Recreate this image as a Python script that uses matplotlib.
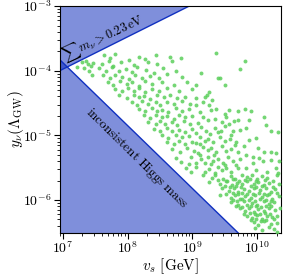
import matplotlib
matplotlib.use("Agg")
import matplotlib.pyplot as plt
import matplotlib.ticker as ticker
import numpy as np

plt.rcParams['mathtext.fontset'] = 'cm'
plt.rcParams['font.family'] = 'serif'

# excluded regions (straight lines in log-log, two end points each)
upper_vs = [10**6.9, 10**9.2]
upper_y = [10**-4.025, 10**-2.875]
lower_vs = [10**6.9, 10**9.8]
lower_y = [10**-3.78, 10**-6.60]

# scan points, (log10 v_s, log10 y_nu)
pts_left = [
    (7.29, -3.86), (7.36, -3.85), (7.43, -3.92), (7.22, -3.95), (7.40, -4.00),
    (7.47, -3.88), (7.33, -3.96), (7.45, -4.06), (7.38, -3.90),
]

pts_band_upper = [
    (7.63, -3.76), (7.72, -3.81), (7.81, -3.74), (8.18, -3.79), (8.27, -3.82),
    (8.44, -3.75), (8.66, -3.78), (8.82, -3.80),
    (7.60, -3.90), (7.71, -3.85), (7.78, -3.92), (7.89, -3.87), (8.02, -3.84),
    (8.09, -3.91), (8.32, -3.86), (8.46, -3.90), (8.69, -3.85),
    (7.55, -3.96), (7.67, -4.01), (7.76, -3.95), (7.86, -4.00), (7.97, -3.97),
    (8.06, -4.02), (8.14, -3.95), (8.28, -3.99), (8.40, -4.03), (8.54, -3.96),
    (8.74, -4.00),
    (7.62, -4.07), (7.73, -4.12), (7.80, -4.06), (7.91, -4.10), (8.02, -4.13),
    (8.12, -4.06), (8.22, -4.11), (8.35, -4.08), (8.48, -4.12), (8.61, -4.05),
    (8.84, -4.10),
    (7.70, -4.17), (7.78, -4.22), (7.88, -4.16), (7.99, -4.21), (8.06, -4.18),
    (8.17, -4.23), (8.27, -4.16), (8.38, -4.20), (8.53, -4.17), (8.71, -4.22),
    (8.92, -4.18),
    (7.81, -4.28), (7.91, -4.32), (8.01, -4.27), (8.09, -4.31), (8.17, -4.26),
    (8.27, -4.33), (8.37, -4.29), (8.48, -4.32), (8.61, -4.27), (8.79, -4.31),
    (9.00, -4.29),
    (7.86, -4.38), (7.99, -4.42), (8.09, -4.37), (8.17, -4.41), (8.25, -4.39),
    (8.35, -4.43), (8.45, -4.37), (8.56, -4.41), (8.66, -4.38), (8.76, -4.42),
    (8.89, -4.40),
    (8.06, -4.48), (8.14, -4.53), (8.22, -4.47), (8.32, -4.52), (8.43, -4.49),
    (8.50, -4.53), (8.61, -4.48), (8.71, -4.51), (8.84, -4.47), (8.97, -4.52),
    (8.17, -4.59), (8.27, -4.63), (8.37, -4.58), (8.45, -4.62), (8.53, -4.60),
    (8.63, -4.64), (8.74, -4.58), (8.84, -4.62), (8.94, -4.59),
    (8.25, -4.69), (8.35, -4.73), (8.43, -4.68), (8.53, -4.72), (8.61, -4.70),
    (8.71, -4.74), (8.79, -4.68), (8.89, -4.72), (9.00, -4.70),
    (8.32, -4.79), (8.43, -4.83), (8.50, -4.78), (8.58, -4.82), (8.69, -4.80),
    (8.76, -4.84), (8.87, -4.78), (8.97, -4.82),
    (8.40, -4.90), (8.50, -4.94), (8.61, -4.89), (8.69, -4.93), (8.79, -4.91),
    (8.89, -4.95), (9.00, -4.90),
    (8.53, -5.00), (8.63, -5.04), (8.74, -4.99), (8.84, -5.03), (8.94, -5.01),
    (8.61, -5.10), (8.71, -5.14), (8.79, -5.09), (8.89, -5.13), (9.00, -5.11),
    (8.69, -5.21), (8.81, -5.25), (8.92, -5.20), (9.02, -5.24),
]

pts_upper_right = [
    (9.14, -4.03), (9.06, -4.22), (9.19, -4.40), (9.26, -4.33), (9.06, -4.53),
    (9.17, -4.48), (9.25, -4.53), (9.29, -4.60), (9.11, -4.64), (9.22, -4.37),
    (9.06, -4.42),
    (9.81, -3.85), (9.73, -3.97), (9.40, -4.11), (9.43, -4.11), (9.50, -4.22),
    (9.36, -4.59), (9.56, -4.60), (9.71, -4.62), (9.81, -4.59), (9.91, -4.62),
    (9.51, -4.67), (9.31, -4.45), (9.37, -3.72), (10.33, -4.95),
    (9.88, -4.76), (10.11, -4.71), (10.14, -4.84), (9.83, -4.89), (9.98, -5.04),
    (10.21, -4.94), (9.88, -5.07), (9.80, -5.17), (10.01, -5.20), (9.83, -5.30),
    (9.93, -5.33), (10.03, -5.35), (10.11, -5.25), (10.21, -5.25), (10.29, -5.27),
    (9.93, -5.43), (10.09, -5.40), (10.21, -5.38), (10.34, -5.40), (9.83, -5.51),
    (9.98, -5.53), (10.16, -5.56), (10.29, -5.51), (10.33, -5.58),
]

pts_band_middle = [
    (9.09, -4.81), (9.16, -4.72), (9.24, -4.77), (9.35, -4.74), (9.45, -4.79),
    (9.52, -4.71), (9.65, -4.78), (9.70, -4.76),
    (9.06, -4.96), (9.14, -4.87), (9.21, -4.93), (9.35, -4.89), (9.39, -4.95),
    (9.50, -4.86), (9.63, -4.93), (9.73, -4.91),
    (9.06, -5.12), (9.11, -5.03), (9.19, -5.08), (9.24, -5.05), (9.32, -5.10),
    (9.42, -5.02), (9.50, -5.09), (9.58, -5.06), (9.68, -5.11),
    (9.09, -5.27), (9.16, -5.18), (9.24, -5.23), (9.29, -5.20), (9.37, -5.26),
    (9.45, -5.17), (9.52, -5.24), (9.60, -5.21), (9.70, -5.25),
    (8.74, -5.35), (8.83, -5.41), (8.98, -5.34), (9.06, -5.42), (9.14, -5.37),
    (9.19, -5.43), (9.24, -5.34), (9.32, -5.39), (9.39, -5.36), (9.47, -5.42),
    (9.55, -5.33), (9.63, -5.40), (9.73, -5.37),
    (8.90, -5.50), (8.98, -5.56), (9.06, -5.49), (9.19, -5.57), (9.26, -5.52),
    (9.35, -5.58), (9.39, -5.49), (9.45, -5.54), (9.52, -5.51), (9.60, -5.57),
    (9.70, -5.50),
    (9.12, -5.14), (9.27, -4.98), (9.44, -4.93), (9.56, -4.82), (9.60, -5.00),
    (9.66, -5.15), (9.34, -5.30), (9.11, -5.31), (8.94, -5.44), (9.28, -5.45),
    (9.50, -5.46), (9.67, -5.46),
]

pts_bottom_right = [
    (9.17, -5.62), (9.30, -5.66), (9.35, -5.61), (9.48, -5.67), (9.59, -5.63),
    (9.66, -5.68), (9.77, -5.61), (9.84, -5.65), (9.92, -5.62), (10.00, -5.67),
    (10.08, -5.63), (10.15, -5.66), (10.31, -5.62),
    (9.25, -5.72), (9.43, -5.76), (9.53, -5.71), (9.61, -5.77), (9.69, -5.73),
    (9.77, -5.76), (9.84, -5.71), (9.95, -5.75), (10.02, -5.72), (10.10, -5.77),
    (10.18, -5.73), (10.34, -5.75),
    (9.46, -5.82), (9.56, -5.86), (9.64, -5.81), (9.71, -5.87), (9.79, -5.83),
    (9.87, -5.86), (9.95, -5.81), (10.05, -5.85), (10.13, -5.82), (10.21, -5.87),
    (10.28, -5.83),
    (9.43, -5.93), (9.59, -5.97), (9.66, -5.92), (9.74, -5.98), (9.82, -5.94),
    (9.90, -5.97), (9.97, -5.92), (10.08, -5.96), (10.15, -5.93), (10.23, -5.98),
    (10.34, -5.94),
    (9.59, -6.03), (9.71, -6.07), (9.79, -6.02), (9.84, -6.08), (9.92, -6.04),
    (10.00, -6.07), (10.10, -6.02), (10.18, -6.06), (10.26, -6.03),
    (9.74, -6.13), (9.82, -6.17), (9.87, -6.12), (9.95, -6.18), (10.02, -6.14),
    (10.10, -6.17), (10.18, -6.12), (10.28, -6.16), (10.35, -6.13),
    (9.84, -6.24), (9.92, -6.28), (10.00, -6.23), (10.08, -6.29), (10.15, -6.25),
    (10.23, -6.27), (10.31, -6.24),
    (9.95, -6.34), (10.02, -6.38), (10.10, -6.33), (10.21, -6.37), (10.31, -6.35),
    (9.97, -6.43), (10.08, -6.46), (10.18, -6.42), (10.26, -6.45), (10.31, -6.50),
    (9.40, -5.69), (9.52, -5.70), (9.63, -5.68), (9.72, -5.70), (9.81, -5.69),
    (9.89, -5.68), (9.98, -5.70), (10.12, -5.69), (10.25, -5.70),
    (9.50, -5.79), (9.58, -5.80), (9.67, -5.78), (9.75, -5.80), (9.91, -5.79),
    (9.99, -5.80), (10.07, -5.78), (10.24, -5.80),
    (9.52, -5.90), (9.62, -5.89), (9.70, -5.91), (9.77, -5.89), (9.85, -5.90),
    (9.93, -5.91), (10.03, -5.89), (10.11, -5.90), (10.19, -5.91), (10.30, -5.89),
    (9.63, -6.00), (9.69, -6.01), (9.77, -5.99), (9.88, -6.00), (9.96, -6.01),
    (10.05, -5.99), (10.13, -6.00), (10.21, -6.01),
    (9.68, -6.10), (9.77, -6.11), (9.90, -6.09), (9.98, -6.10), (10.06, -6.11),
    (10.14, -6.09), (10.22, -6.10),
    (9.80, -6.21), (9.89, -6.20), (9.97, -6.22), (10.05, -6.21), (10.12, -6.20),
    (10.20, -6.22),
    (9.90, -6.31), (9.99, -6.30), (10.06, -6.32), (10.14, -6.31), (10.26, -6.30),
]

pts = np.array(pts_left + pts_band_upper + pts_upper_right + pts_band_middle + pts_bottom_right)
vs = 10**pts[:, 0]
ynu = 10**pts[:, 1]

fig = plt.figure(figsize=(2.88, 2.77), dpi=100)
ax = fig.add_axes([0.208, 0.159, 0.768, 0.819])
ax.set_xscale('log')
ax.set_yscale('log')

fill_c = (0.0, 0.13, 0.72, 0.5)
edge_c = '#1030c0'
ax.fill_between(upper_vs, upper_y, 1e-2, facecolor=fill_c, edgecolor='none', zorder=1)
ax.plot(upper_vs, upper_y, color=edge_c, lw=1.0, zorder=2)
ax.fill_between(lower_vs, 1e-8, lower_y, facecolor=fill_c, edgecolor='none', zorder=1)
ax.plot(lower_vs, lower_y, color=edge_c, lw=1.0, zorder=2)

ax.scatter(vs, ynu, s=8, color='#5ccf5c', alpha=0.85, linewidths=0, zorder=3)

ax.text(10**7.62, 10**-3.49, r'$\sum m_\nu > 0.23\,\mathrm{eV}$', rotation=25,
        ha='center', va='center', fontsize=9)
ax.text(10**8.14, 10**-5.35, r'$\mathrm{inconsistent\ Higgs\ mass}$', rotation=-44.5,
        ha='center', va='center', fontsize=9.5)

ax.set_xlim(10**6.953, 10**10.37)
ax.set_ylim(10**-6.51, 1e-3)

fmt = ticker.FuncFormatter(lambda v, _: r'$10^{%d}$' % round(np.log10(v)))
ax.xaxis.set_major_locator(ticker.LogLocator(base=10, numticks=10))
ax.yaxis.set_major_locator(ticker.LogLocator(base=10, numticks=10))
ax.xaxis.set_major_formatter(fmt)
ax.yaxis.set_major_formatter(fmt)
ax.xaxis.set_minor_formatter(ticker.NullFormatter())
ax.yaxis.set_minor_formatter(ticker.NullFormatter())
ax.tick_params(which='major', labelsize=10, length=4.5)
ax.tick_params(which='minor', length=2.5)
ax.tick_params(axis='x', which='major', pad=1.0)
ax.tick_params(axis='y', which='major', pad=1.5)

ax.set_xlabel(r'$v_s\ [\mathrm{GeV}]$', fontsize=11)
ax.xaxis.set_label_coords(0.5, -0.103)
ax.set_ylabel(r'$y_\nu(\Lambda_{\mathrm{GW}})$', fontsize=11, labelpad=-2)

fig.savefig('out.png', dpi=100)
